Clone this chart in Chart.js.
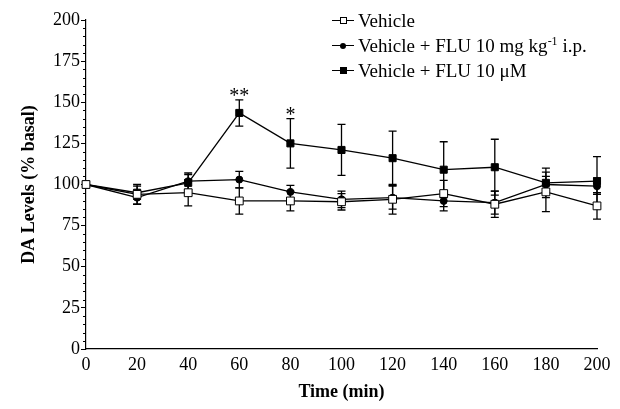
<!DOCTYPE html>
<html>
<head>
<meta charset="utf-8">
<script src="https://cdn.jsdelivr.net/npm/chart.js@4/dist/chart.umd.min.js"></script>
<style>
    body { margin: 0; background: #fff; }
    #wrap { position: relative; width: 620px; height: 409px; }
    #legend {
        position: absolute; left: 332px; top: 8px;
        font-family: "Liberation Serif", serif; font-size: 19px; color: #000;
    }
    .row { height: 25px; line-height: 25px; white-space: nowrap; }
    .mk { display: inline-block; position: relative; width: 22px; height: 10px; margin-right: 4px; vertical-align: 1px; }
    .mk::before { content: ""; position: absolute; left: 0; right: 0; top: 4px; border-top: 1.5px solid #000; }
    .mk i { position: absolute; left: 8px; top: 1px; width: 7px; height: 7px; box-sizing: border-box; }
    .open i { background: #fff; border: 1px solid #000; }
    .dot i { background: #000; border-radius: 50%; left: 8px; top: 1.5px; width: 6px; height: 6px; }
    .fill i { background: #000; }
    sup { font-size: 12px; line-height: 0; }
</style>
</head>
<body>
<div id="wrap">
    <canvas id="daChart" width="620" height="409"></canvas>
    <div id="legend">
        <div class="row"><span class="mk open"><i></i></span>Vehicle</div>
        <div class="row"><span class="mk dot"><i></i></span>Vehicle + FLU 10 mg kg<sup>-1</sup> i.p.</div>
        <div class="row"><span class="mk fill"><i></i></span>Vehicle + FLU 10 μM</div>
    </div>
</div>

<script>
// ==============================
// Data
// ==============================
const times = [0, 20, 40, 60, 80, 100, 120, 140, 160, 180, 200];

const vehicle    = [100, 94, 95, 90, 90, 89.5, 91, 94.5, 88, 95.5, 87];
const vehicleErr = [0, 6, 8, 8, 6, 5, 9, 8, 8, 12, 8];

const fluIp    = [100, 92, 102, 103, 95.5, 91, 92, 90, 89, 100, 99];
const fluIpErr = [0, 4, 5, 5, 4, 5, 7, 6, 7, 5, 5];

const fluUm    = [100, 95, 101, 143.5, 125, 121, 116, 109, 110.5, 101, 102];
const fluUmErr = [0, 4, 5, 8, 15, 15.5, 16.5, 17, 17, 9, 15];

const fluUmSig = ["", "", "", "**", "*", "", "", "", "", "", ""];

const yTicks = [0, 25, 50, 75, 100, 125, 150, 175, 200];

const serif = "'Liberation Serif', 'Times New Roman', serif";

function toPoints(values) {
    return times.map((t, i) => ({ x: t, y: values[i] }));
}

// ==============================
// Error bars, stars, minor ticks
// ==============================
const extrasPlugin = {
    id: "extras",
    beforeDatasetsDraw(chart) {
        const ctx = chart.ctx;
        const xs = chart.scales.x;
        const ys = chart.scales.y;
        const groups = [
            [vehicle, vehicleErr],
            [fluIp, fluIpErr],
            [fluUm, fluUmErr]
        ];

        ctx.save();
        ctx.strokeStyle = "#000";
        ctx.lineWidth = 1.3;
        groups.forEach(([vals, errs]) => {
            times.forEach((t, i) => {
                if (!errs[i]) return;
                const px = xs.getPixelForValue(t);
                const top = ys.getPixelForValue(vals[i] + errs[i]);
                const bot = ys.getPixelForValue(vals[i] - errs[i]);
                ctx.beginPath();
                ctx.moveTo(px, top); ctx.lineTo(px, bot);
                ctx.moveTo(px - 4, top); ctx.lineTo(px + 4, top);
                ctx.moveTo(px - 4, bot); ctx.lineTo(px + 4, bot);
                ctx.stroke();
            });
        });
        ctx.restore();
    },
    afterDraw(chart) {
        const ctx = chart.ctx;
        const xs = chart.scales.x;
        const ys = chart.scales.y;

        ctx.save();
        // minor ticks every 5 on y
        ctx.strokeStyle = "#000";
        ctx.lineWidth = 1;
        for (let v = 0; v <= 200; v += 5) {
            if (v % 25 === 0) continue;
            const py = Math.round(ys.getPixelForValue(v)) + 0.5;
            ctx.beginPath();
            ctx.moveTo(ys.right - 3, py);
            ctx.lineTo(ys.right, py);
            ctx.stroke();
        }

        // significance marks
        ctx.fillStyle = "#000";
        ctx.font = "20px " + serif;
        ctx.textAlign = "center";
        ctx.textBaseline = "bottom";
        fluUmSig.forEach((s, i) => {
            if (!s) return;
            const px = xs.getPixelForValue(times[i]);
            const py = ys.getPixelForValue(fluUm[i] + fluUmErr[i]);
            ctx.fillText(s, px, py + 7);
        });
        ctx.restore();
    }
};

// ==============================
// Chart
// ==============================
const lineStyle = {
    borderColor: "#000",
    borderWidth: 1.3,
    pointBorderColor: "#000",
    pointBorderWidth: 1,
    tension: 0,
    clip: false
};

new Chart(document.getElementById("daChart"), {
    type: "line",
    data: {
        datasets: [
            {
                ...lineStyle,
                label: "Vehicle + FLU 10 μM",
                data: toPoints(fluUm),
                pointStyle: "rect",
                pointRadius: 5,
                pointBackgroundColor: "#000",
                order: 3
            },
            {
                ...lineStyle,
                label: "Vehicle + FLU 10 mg kg-1 i.p.",
                data: toPoints(fluIp),
                pointStyle: "circle",
                pointRadius: 3.5,
                pointBackgroundColor: "#000",
                order: 2
            },
            {
                ...lineStyle,
                label: "Vehicle",
                data: toPoints(vehicle),
                pointStyle: "rect",
                pointRadius: 5.5,
                pointBackgroundColor: "#fff",
                order: 1
            }
        ]
    },
    plugins: [extrasPlugin],
    options: {
        responsive: false,
        animation: false,
        layout: { padding: { top: 20, right: 23, left: 0, bottom: 0 } },
        plugins: {
            legend: { display: false },
            tooltip: { enabled: false }
        },
        scales: {
            x: {
                type: "linear",
                min: 0,
                max: 200,
                afterBuildTicks: scale => {
                    scale.ticks = times.map(v => ({ value: v }));
                },
                afterFit: scale => { scale.height = 60; },
                border: { color: "#000", width: 1.2 },
                grid: { drawOnChartArea: false, tickLength: 3, tickColor: "transparent" },
                ticks: {
                    color: "#000",
                    font: { family: serif, size: 18 },
                    padding: 2,
                    maxRotation: 0
                },
                title: {
                    display: true,
                    text: "Time (min)",
                    color: "#000",
                    font: { family: serif, size: 18, weight: "bold" },
                    padding: { top: 0, bottom: 6 }
                }
            },
            y: {
                min: 0,
                max: 200,
                afterBuildTicks: scale => {
                    scale.ticks = yTicks.map(v => ({ value: v }));
                },
                afterFit: scale => { scale.width = 86; },
                border: { color: "#000", width: 1.2 },
                grid: { drawOnChartArea: false, tickLength: 5, color: "#000" },
                ticks: {
                    color: "#000",
                    font: { family: serif, size: 18 },
                    padding: 1
                },
                title: {
                    display: true,
                    text: "DA Levels (% basal)",
                    color: "#000",
                    font: { family: serif, size: 18, weight: "bold" },
                    padding: { top: 19, bottom: 0 }
                }
            }
        }
    }
});
</script>
</body>
</html>
